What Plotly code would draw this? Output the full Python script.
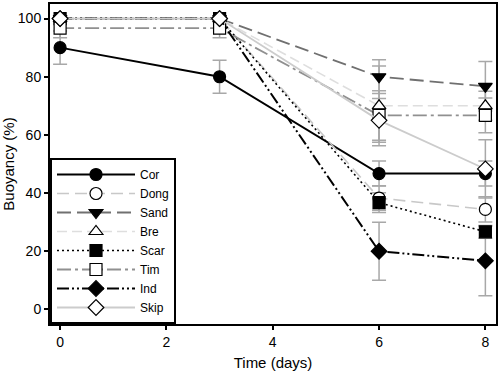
import plotly.graph_objects as go

days = [0, 3, 6, 8]
series_names = ["Cor", "Dong", "Sand", "Bre", "Scar", "Tim", "Ind", "Skip"]
cor = [90, 80, 46.7, 46.7]
dong = [100, 100, 38.3, 34.4]
sand = [100, 100, 80, 76.7]
bre = [100, 100, 70, 70]
scar = [100, 100, 36.7, 26.7]
tim = [96.7, 96.7, 66.7, 66.7]
ind = [100, 100, 20, 16.7]
skip = [100, 100, 65, 48.3]

cor_err = [5.7, 5.7, 4.3, 4.3]
dong_err = [0, 0, 4.2, 4.3]
sand_err = [0, 0, 5.8, 8.5]
bre_err = [0, 0, 13.7, 5.0]
scar_err = [0, 0, 3.4, 2.2]
tim_err = [3.3, 3.3, 8.5, 6.0]
ind_err = [0, 0, 10.0, 12.0]
skip_err = [0, 0, 7.5, 10.0]

values = [cor, dong, sand, bre, scar, tim, ind, skip]
errors = [cor_err, dong_err, sand_err, bre_err, scar_err, tim_err, ind_err, skip_err]

styles = [
    dict(color="black", dash="solid", width=2, symbol="circle", mcolor="black", lcol="black"),
    dict(color="#c8c8c8", dash="12px,6px", width=1.6, symbol="circle", mcolor="white", lcol="black"),
    dict(color="#707070", dash="14px,6px", width=1.8, symbol="triangle-down", mcolor="black", lcol="black"),
    dict(color="#dedede", dash="10px,5px", width=1.6, symbol="triangle-up", mcolor="white", lcol="black"),
    dict(color="black", dash="2px,3px", width=1.6, symbol="square", mcolor="black", lcol="black"),
    dict(color="#909090", dash="14px,4px,3px,4px", width=1.8, symbol="square", mcolor="white", lcol="black"),
    dict(color="black", dash="12px,3px,2px,3px,2px,3px", width=2, symbol="diamond", mcolor="black", lcol="black"),
    dict(color="#cccccc", dash="solid", width=1.8, symbol="diamond", mcolor="white", lcol="black"),
]

fig = go.Figure()
# error bars first (drawn underneath)
for name, v, e in zip(series_names, values, errors):
    fig.add_trace(go.Scatter(
        x=days, y=v, mode="markers", marker=dict(size=0.1, opacity=0),
        error_y=dict(type="data", array=e, visible=True, color="#a8a8a8", thickness=1.5, width=7),
        showlegend=False, hoverinfo="skip", cliponaxis=False))

for name, v, s in zip(series_names, values, styles):
    fig.add_trace(go.Scatter(
        x=days, y=v, name=name, mode="lines+markers", cliponaxis=False,
        line=dict(color=s["color"], dash=s["dash"], width=s["width"]),
        marker=dict(symbol=s["symbol"], size=12, color=s["mcolor"],
                    line=dict(color=s["lcol"], width=1.2)),
    ))

fig.update_layout(
    width=500, height=375,
    margin=dict(l=50, r=2, t=2, b=51),
    plot_bgcolor="white", paper_bgcolor="white",
    font=dict(family="Liberation Sans, Arial, sans-serif", size=14, color="black"),
    showlegend=True,
    legend=dict(x=0, y=0, xanchor="left", yanchor="bottom",
                bordercolor="black", borderwidth=2, bgcolor="white",
                font=dict(size=12), itemwidth=78,
                tracegroupgap=0),
    xaxis=dict(range=[-0.19, 8.2], tickvals=[0, 2, 4, 6, 8], showgrid=False, zeroline=False,
               showline=True, linecolor="black", linewidth=2, mirror=True,
               ticks="outside", ticklen=4, tickwidth=2, tickcolor="black",
               title=dict(text="Time (days)", font=dict(size=15), standoff=9)),
    yaxis=dict(range=[-5, 105], tickvals=[0, 20, 40, 60, 80, 100], showgrid=False, zeroline=False,
               showline=True, linecolor="black", linewidth=2, mirror=True,
               ticks="outside", ticklen=4, tickwidth=2, tickcolor="black",
               title=dict(text="Buoyancy (%)", font=dict(size=15), standoff=4)),
)

fig.write_html("out.html", config={"displayModeBar": False},
               post_script="document.body.style.margin='0';")
